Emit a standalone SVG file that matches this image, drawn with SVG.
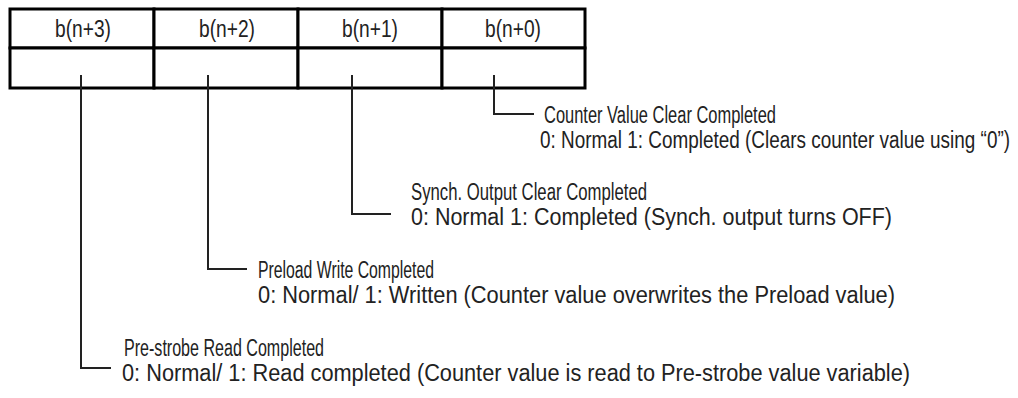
<svg xmlns="http://www.w3.org/2000/svg" width="1018" height="398" viewBox="0 0 1018 398">
<style>
.cell{fill:#fff;stroke:#000;stroke-width:3}
.hdr{font-family:"Liberation Sans",Arial,sans-serif;font-size:23px;fill:#222;text-anchor:middle}
.t{font-family:"Liberation Sans",Arial,sans-serif;font-size:23px;fill:#222}
.con{fill:none;stroke:#222;stroke-width:2}
</style>
<rect width="1018" height="398" fill="#fff"/>
<g id="table">
<g id="col3"><rect class="cell" x="10" y="9" width="144" height="39"/><rect class="cell" x="10" y="48" width="144" height="40"/><text class="hdr" x="83" y="37" textLength="56" lengthAdjust="spacingAndGlyphs">b(n+3)</text></g>
<g id="col2"><rect class="cell" x="154" y="9" width="144" height="39"/><rect class="cell" x="154" y="48" width="144" height="40"/><text class="hdr" x="227" y="37" textLength="56" lengthAdjust="spacingAndGlyphs">b(n+2)</text></g>
<g id="col1"><rect class="cell" x="298" y="9" width="144" height="39"/><rect class="cell" x="298" y="48" width="144" height="40"/><text class="hdr" x="370" y="37" textLength="56" lengthAdjust="spacingAndGlyphs">b(n+1)</text></g>
<g id="col0"><rect class="cell" x="442" y="9" width="143" height="39"/><rect class="cell" x="442" y="48" width="143" height="40"/><text class="hdr" x="513" y="37" textLength="56" lengthAdjust="spacingAndGlyphs">b(n+0)</text></g>
</g>
<g id="connectors">
<polyline class="con" points="81,75 81,368 111,368"/>
<polyline class="con" points="208,75 208,269 247,269"/>
<polyline class="con" points="352,75 352,214 391,214"/>
<polyline class="con" points="494,75 494,114 534,114"/>
</g>
<g id="bit0">
<text class="t" x="544" y="123" textLength="232" lengthAdjust="spacingAndGlyphs">Counter Value Clear Completed</text>
<text class="t" x="540" y="148" textLength="470" lengthAdjust="spacingAndGlyphs">0: Normal  1: Completed (Clears counter value using “0”)</text>
</g>
<g id="bit1">
<text class="t" x="411" y="200" textLength="236" lengthAdjust="spacingAndGlyphs">Synch. Output Clear Completed</text>
<text class="t" x="411" y="225" textLength="481" lengthAdjust="spacingAndGlyphs">0: Normal 1: Completed (Synch. output turns OFF)</text>
</g>
<g id="bit2">
<text class="t" x="258" y="278" textLength="176" lengthAdjust="spacingAndGlyphs">Preload Write Completed</text>
<text class="t" x="258" y="303" textLength="637" lengthAdjust="spacingAndGlyphs">0: Normal/ 1: Written (Counter value overwrites the Preload value)</text>
</g>
<g id="bit3">
<text class="t" x="124" y="356" textLength="200" lengthAdjust="spacingAndGlyphs">Pre-strobe Read Completed</text>
<text class="t" x="122" y="381" textLength="788" lengthAdjust="spacingAndGlyphs">0: Normal/ 1: Read completed (Counter value is read to Pre-strobe value variable)</text>
</g>
</svg>
